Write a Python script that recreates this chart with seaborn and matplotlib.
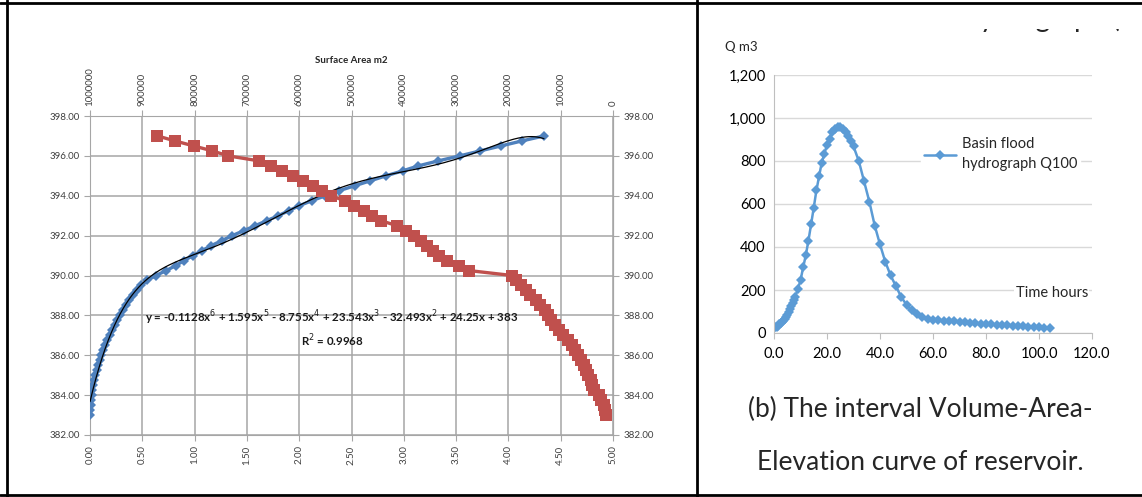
import matplotlib
matplotlib.use("Agg")
import matplotlib.pyplot as plt
from matplotlib.ticker import FuncFormatter, MultipleLocator
from matplotlib.transforms import Bbox
import numpy as np
import pandas as pd
import seaborn as sns

## data

# elevation-volume curve (volume in million m3)
elev_vol = [383.00, 383.25, 383.50, 383.75, 384.00, 384.25, 384.50, 384.75, 385.00, 385.25,
            385.50, 385.75, 386.00, 386.25, 386.50, 386.75, 387.00, 387.25, 387.50, 387.75,
            388.00, 388.25, 388.50, 388.75, 389.00, 389.25, 389.50, 389.75, 390.00, 390.25,
            390.50, 390.75, 391.00, 391.25, 391.50, 391.75, 392.00, 392.25, 392.50, 392.75,
            393.00, 393.25, 393.50, 393.75, 394.00, 394.25, 394.50, 394.75, 395.00, 395.25,
            395.50, 395.75, 396.00, 396.25, 396.50, 396.75, 397.00]
volume = [0.000, 0.004, 0.008, 0.012, 0.017, 0.023, 0.031, 0.040, 0.051, 0.063,
          0.077, 0.092, 0.108, 0.126, 0.145, 0.166, 0.188, 0.211, 0.235, 0.260,
          0.286, 0.314, 0.343, 0.375, 0.410, 0.448, 0.492, 0.548, 0.630, 0.730,
          0.820, 0.900, 0.985, 1.070, 1.160, 1.260, 1.360, 1.470, 1.580, 1.690,
          1.800, 1.900, 2.000, 2.120, 2.250, 2.380, 2.530, 2.680, 2.830, 2.990,
          3.140, 3.330, 3.535, 3.730, 3.930, 4.130, 4.340]

# elevation-surface area curve (m2)
elev_area = [397.00, 396.75, 396.50, 396.25, 396.00, 395.75, 395.50, 395.25, 395.00, 394.75,
             394.50, 394.25, 394.00, 393.75, 393.50, 393.25, 393.00, 392.75, 392.50, 392.25,
             392.00, 391.75, 391.50, 391.25, 391.00, 390.75, 390.50, 390.25, 390.00, 389.75,
             389.50, 389.25, 389.00, 388.75, 388.50, 388.25, 388.00, 387.75, 387.50, 387.25,
             387.00, 386.75, 386.50, 386.25, 386.00, 385.75, 385.50, 385.25, 385.00, 384.75,
             384.50, 384.25, 384.00, 383.75, 383.50, 383.25, 383.00]
area = [871000, 837500, 802000, 766000, 736000, 677000, 654600, 633000, 612000, 593000,
        573000, 556000, 539000, 513000, 494600, 476600, 461000, 444000, 413000, 396000,
        380500, 368000, 355500, 344000, 333600, 318000, 294500, 276000, 193000, 185000,
        176000, 166000, 158000, 148000, 140000, 130000, 124000, 118000, 111000, 104000,
        96000, 86000, 78000, 72000, 66000, 61000, 56000, 51000, 47000, 43000,
        40600, 36800, 27400, 22000, 18000, 16000, 14000]

eq_text = "y = -0.1128x$^6$ + 1.595x$^5$ - 8.755x$^4$ + 23.543x$^3$ - 32.493x$^2$ + 24.25x + 383"
r2_text = "R$^2$ = 0.9968"

# flood hydrograph
hours = [0, 0.5, 1, 1.5, 2, 2.5, 3, 3.5, 4, 4.5, 5, 5.5, 6, 6.5, 7, 7.5, 8,
         9, 10, 11, 12, 13, 14, 15, 16, 17, 18, 19, 20, 21, 22, 23, 24, 25, 26, 27, 28, 29, 30,
         32, 34, 36, 38, 40, 42, 44, 46, 48, 50, 52, 54, 56, 58, 60, 62, 64, 66, 68, 70,
         72, 74, 76, 78, 80, 82, 84, 86, 88, 90, 92, 94, 96, 98, 100, 102, 104]
flow = [22, 26, 30, 34, 40, 46, 52, 58, 66, 76, 86, 98, 110, 124, 138, 152, 168,
        205, 245, 305, 362, 430, 506, 583, 663, 728, 792, 833, 876, 903, 935, 950, 958, 956, 949, 935, 918, 895, 868,
        800, 705, 610, 500, 412, 331, 268, 218, 168, 131, 105, 87, 73, 66, 62, 60, 58, 56, 54, 51,
        49, 47, 45, 43, 42, 40, 38, 36, 35, 33, 32, 31, 29, 27, 26, 25, 24]

df_vol = pd.DataFrame({"volume": volume, "elev": elev_vol})
df_area = pd.DataFrame({"area": area, "elev": elev_area})
df_q = pd.DataFrame({"hours": hours, "flow": flow})

sns.set_style("white")
plt.rcParams["font.family"] = ["Lato", "DejaVu Sans"]

fig = plt.figure(figsize=(11.42, 4.97), dpi=100)
W, H = 1142, 497

def px_axes(x0, y0, x1, y1):
    return fig.add_axes([x0 / W, 1 - y1 / H, (x1 - x0) / W, (y1 - y0) / H])

## left: volume / area / elevation
ax = px_axes(90, 116, 613, 435)
grid_c = "#a6a6a6"
sns.lineplot(data=df_vol, x="volume", y="elev", ax=ax, sort=False, estimator=None,
             color="#4f81bd", lw=2.4, marker="D", markersize=5.5, markeredgewidth=0, zorder=3)
# 6th order trendline fitted on the blue series
coef = np.polyfit(volume, elev_vol, 6)
xs = np.linspace(0, 4.34, 300)
ax.plot(xs, np.polyval(coef, xs), color="black", lw=0.9, zorder=4)

ax.set_xlim(0, 5)
ax.set_ylim(382, 398)
ax.xaxis.set_major_locator(MultipleLocator(0.5))
ax.yaxis.set_major_locator(MultipleLocator(2))
ax.xaxis.set_major_formatter(FuncFormatter(lambda v, p: f"{v:.2f}"))
ax.yaxis.set_major_formatter(FuncFormatter(lambda v, p: f"{v:.2f}"))
ax.grid(True, color=grid_c, lw=1.1)
ax.tick_params(axis="x", labelrotation=90, labelsize=7, colors="#404040", length=4, direction="out",
               bottom=True, color=grid_c)
ax.tick_params(axis="y", labelsize=7, colors="#404040", length=4, left=True, color=grid_c)
ax.set_xlabel("")
ax.set_ylabel("")
for s in ax.spines.values():
    s.set_visible(False)
ax.spines["left"].set_visible(True)
ax.spines["left"].set_color(grid_c)
ax.spines["bottom"].set_visible(True)
ax.spines["bottom"].set_color(grid_c)

ax_top = ax.twiny()
sns.lineplot(data=df_area, x="area", y="elev", ax=ax_top, sort=False, estimator=None,
             color="#c0504d", lw=2.4, marker="s", markersize=8.5, markeredgewidth=0, zorder=3)
ax_top.set_xlim(1000000, 0)
ax_top.set_ylim(382, 398)
ax_top.xaxis.set_major_locator(MultipleLocator(100000))
ax_top.xaxis.set_major_formatter(FuncFormatter(lambda v, p: f"{v:.0f}"))
ax_top.tick_params(axis="x", labelrotation=90, labelsize=7, colors="#404040", length=4, top=True,
                   color=grid_c)
ax_top.set_xlabel("Surface Area m2", fontsize=7, fontweight="bold", labelpad=3)
ax_top.set_ylabel("")
for s in ax_top.spines.values():
    s.set_visible(False)
ax_top.spines["top"].set_visible(True)
ax_top.spines["top"].set_color(grid_c)
ax_top.spines["right"].set_visible(True)
ax_top.spines["right"].set_color(grid_c)

ax_r = ax.secondary_yaxis("right")
ax_r.yaxis.set_major_locator(MultipleLocator(2))
ax_r.yaxis.set_major_formatter(FuncFormatter(lambda v, p: f"{v:.2f}"))
ax_r.tick_params(labelsize=7, colors="#404040", length=4, color=grid_c)
ax_r.spines["right"].set_color(grid_c)

ax.text(0.463, 0.368, eq_text, transform=ax.transAxes, ha="center", va="center",
        fontsize=8.3, fontweight="bold", color="#1a1a1a", zorder=5)
ax.text(0.463, 0.295, r2_text, transform=ax.transAxes, ha="center", va="center",
        fontsize=8.3, fontweight="bold", color="#1a1a1a", zorder=5)

## right: hydrograph
axq = px_axes(774, 75, 1092, 333)
blue = "#5b9bd5"
sns.lineplot(data=df_q, x="hours", y="flow", ax=axq, sort=False, estimator=None,
             color=blue, lw=1.8, marker="D", markersize=5.5, markeredgewidth=0,
             label="Basin flood\nhydrograph Q100")
axq.set_xlim(0, 120)
axq.set_ylim(0, 1200)
axq.xaxis.set_major_locator(MultipleLocator(20))
axq.yaxis.set_major_locator(MultipleLocator(200))
axq.xaxis.set_major_formatter(FuncFormatter(lambda v, p: f"{v:.1f}"))
axq.yaxis.set_major_formatter(FuncFormatter(lambda v, p: f"{v:,.0f}"))
axq.grid(axis="y", color="#d9d9d9", lw=1)
axq.tick_params(axis="x", labelsize=10.5, colors="black", length=4, bottom=True, color="#bfbfbf", pad=6)
axq.tick_params(axis="y", labelsize=10.5, colors="black", length=0, pad=6)
axq.set_xlabel("")
axq.set_ylabel("")
for s in ["top", "right"]:
    axq.spines[s].set_visible(False)
axq.spines["left"].set_color("#bfbfbf")
axq.spines["bottom"].set_color("#bfbfbf")
leg = axq.legend(loc="upper left", bbox_to_anchor=(0.44, 0.8), frameon=True, framealpha=1,
                 edgecolor="white", fontsize=10.5, handlelength=2.2, borderpad=0.2, handletextpad=0.4)
for txt in leg.get_texts():
    txt.set_linespacing(1.6)
fig.text(725 / W, 1 - 47 / H, "Q m3", fontsize=9.5, ha="left", va="center")
fig.text(1088 / W, 1 - 293 / H, "Time hours", fontsize=10.5, ha="right", va="center",
         bbox=dict(facecolor="white", edgecolor="none", pad=1))
fig.text(920 / W, 1 - 409 / H, "(b) The interval Volume-Area-", fontsize=19, ha="center", va="center")
fig.text(920 / W, 1 - 462 / H, "Elevation curve of reservoir.", fontsize=19, ha="center", va="center")

# title of the hydrograph, cut at the cell edge so only the descenders show
t = fig.text(888 / W, 1 - 27 / H, "Flood hydrograph ( Q100 )", fontsize=20, ha="left", va="baseline")
t.set_clip_box(Bbox.from_extents(0, 0, W, H - 29))
t.set_clip_on(True)

## frame lines of the table
fig.add_artist(plt.Line2D([0, 1], [1 - 3 / H, 1 - 3 / H], transform=fig.transFigure, color="black", lw=2))
fig.add_artist(plt.Line2D([0, 1], [1 - 495 / H, 1 - 495 / H], transform=fig.transFigure, color="black", lw=2))
fig.add_artist(plt.Line2D([7 / W, 7 / W], [0, 1], transform=fig.transFigure, color="black", lw=2))
fig.add_artist(plt.Line2D([697 / W, 697 / W], [0, 1], transform=fig.transFigure, color="black", lw=2))

fig.savefig("out.png", dpi=100)
